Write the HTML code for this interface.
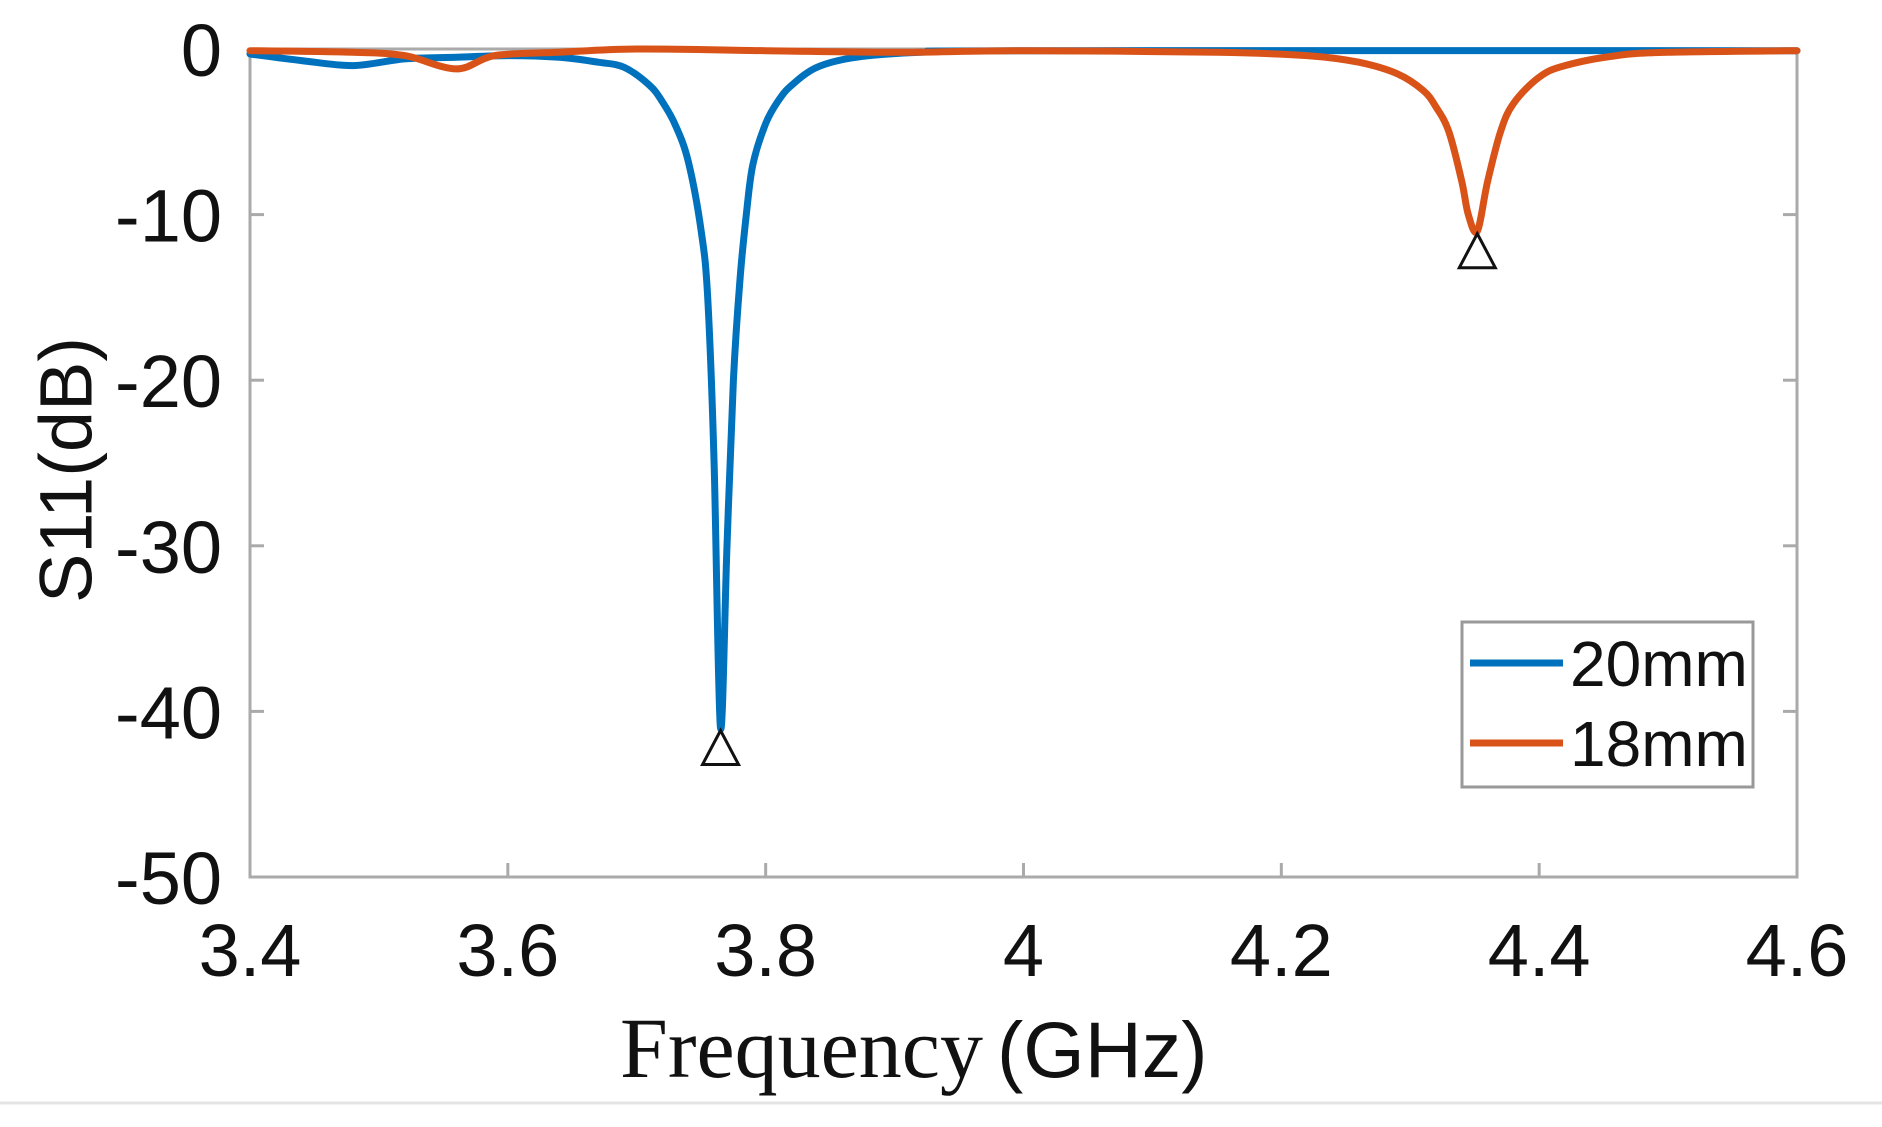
<!DOCTYPE html>
<html><head><meta charset="utf-8"><style>
html,body{margin:0;padding:0;background:#fff;width:1882px;height:1127px;overflow:hidden}
svg{display:block}
text{font-family:"Liberation Sans",sans-serif;fill:#111}
</style></head><body>
<svg id="chart" width="1882" height="1127" viewBox="0 0 1882 1127">
<line x1="0" y1="1103" x2="1882" y2="1103" stroke="#e4e4e4" stroke-width="3"/>
<g id="axes"></g>
<g id="series"></g>
<g id="markers"></g>
<g>
<rect x="1462" y="622" width="291" height="165" fill="#fff" stroke="#999" stroke-width="3"/>
<line x1="1470" y1="663" x2="1563" y2="663" stroke="#0072BD" stroke-width="7"/>
<text x="1570" y="686" font-size="64">20mm</text>
<line x1="1470" y1="743" x2="1563" y2="743" stroke="#D95319" stroke-width="7"/>
<text x="1570" y="766" font-size="64">18mm</text>
</g>
<text x="66" y="470" font-size="74" text-anchor="middle" dominant-baseline="central" transform="rotate(-90 66 470)">S11(dB)</text>
<text x="620" y="1077" font-size="86" style="font-family:'Liberation Serif',serif">Frequency<tspan style="font-family:'Liberation Sans',sans-serif" font-size="79" dx="14">(GHz)</tspan></text>
</svg>
<script>
const xTicks=[3.4,3.6,3.8,4.0,4.2,4.4,4.6];
const xTickLabels=["3.4","3.6","3.8","4","4.2","4.4","4.6"];
const yTicks=[0,-10,-20,-30,-40,-50];
const yTickLabels=["0","-10","-20","-30","-40","-50"];
const freq20=[3.40,3.44,3.48,3.52,3.56,3.60,3.64,3.67,3.69,3.71,3.72,3.73,3.74,3.75,3.755,3.76,3.765,3.77,3.775,3.78,3.785,3.79,3.80,3.81,3.82,3.84,3.87,3.92,4.0,4.6];
const s20=[-0.3,-0.7,-1.0,-0.6,-0.5,-0.4,-0.5,-0.8,-1.1,-2.2,-3.2,-4.6,-6.8,-11,-15,-25,-41,-30,-20,-14,-10,-7,-4.5,-3.1,-2.2,-1.1,-0.5,-0.2,-0.1,-0.1];
const freq18=[3.40,3.48,3.52,3.56,3.59,3.64,3.70,3.80,3.90,4.0,4.15,4.22,4.26,4.29,4.31,4.32,4.33,4.34,4.345,4.352,4.36,4.37,4.38,4.40,4.42,4.46,4.5,4.6];
const s18=[-0.1,-0.2,-0.4,-1.2,-0.4,-0.2,0,-0.1,-0.2,-0.1,-0.2,-0.4,-0.8,-1.5,-2.5,-3.5,-5,-8,-10,-11,-8,-5,-3.3,-1.7,-1.0,-0.4,-0.2,-0.1];
const markerFreq=[3.765,4.352];
const markerVal=[-42.3,-12.3];

const L=250,R=1797,T=49,B=877;
const X=f=>L+(f-3.4)/(4.6-3.4)*(R-L);
const Y=v=>T+(0-v)/50*(B-T);
const NS="http://www.w3.org/2000/svg";
function mk(tag,attrs,parent){const e=document.createElementNS(NS,tag);for(const k in attrs)e.setAttribute(k,attrs[k]);parent.appendChild(e);return e;}
const ax=document.getElementById('axes');
const frame=mk('rect',{x:L,y:T,width:R-L,height:B-T,fill:'none',stroke:'#aaa','stroke-width':3},ax);


xTicks.forEach((t,i)=>{
  const tk=mk('line',{x1:X(t),y1:B,x2:X(t),y2:B-14,stroke:'#aaa','stroke-width':3},ax);
  
  
  const lb=mk('text',{x:X(t),y:976,'font-size':74,'text-anchor':'middle'},ax);
  lb.textContent=xTickLabels[i];
  
  
});
yTicks.forEach((t,i)=>{
  const tk=mk('line',{x1:L,y1:Y(t),x2:L+14,y2:Y(t),stroke:'#aaa','stroke-width':3},ax);
  
  
  const tk2=mk('line',{x1:R,y1:Y(t),x2:R-14,y2:Y(t),stroke:'#aaa','stroke-width':3},ax);
  
  
  const lb=mk('text',{x:222,y:Y(t)+27,'font-size':74,'text-anchor':'end'},ax);
  lb.textContent=yTickLabels[i];
  
  
});
const sg=document.getElementById('series');
function line(fs,vs,color,name){
  const P=fs.map((f,i)=>[X(f),Y(vs[i])]);
  let d='M'+P[0][0].toFixed(1)+','+P[0][1].toFixed(1);
  for(let i=0;i<P.length-1;i++){
    const p0=P[Math.max(0,i-1)],p1=P[i],p2=P[i+1],p3=P[Math.min(P.length-1,i+2)];
    const c1=[p1[0]+(p2[0]-p0[0])/6,p1[1]+(p2[1]-p0[1])/6];
    const c2=[p2[0]-(p3[0]-p1[0])/6,p2[1]-(p3[1]-p1[1])/6];
    d+=` C${c1[0].toFixed(1)},${c1[1].toFixed(1)} ${c2[0].toFixed(1)},${c2[1].toFixed(1)} ${p2[0].toFixed(1)},${p2[1].toFixed(1)}`;
  }
  const p=mk('path',{d:d,fill:'none',stroke:color,'stroke-width':7,'stroke-linejoin':'round','stroke-linecap':'round'},sg);
  
  
}
line(freq20,s20,'#0072BD','series-20mm');
line(freq18,s18,'#D95319','series-18mm');
const mg=document.getElementById('markers');
markerFreq.forEach((f,i)=>{
  const cx=X(f),cy=Y(markerVal[i]);
  const tri=mk('polygon',{points:`${cx},${cy-19} ${cx-18},${cy+15} ${cx+18},${cy+15}`,fill:'none',stroke:'#111','stroke-width':3},mg);
  
  
});
</script>
</body></html>
